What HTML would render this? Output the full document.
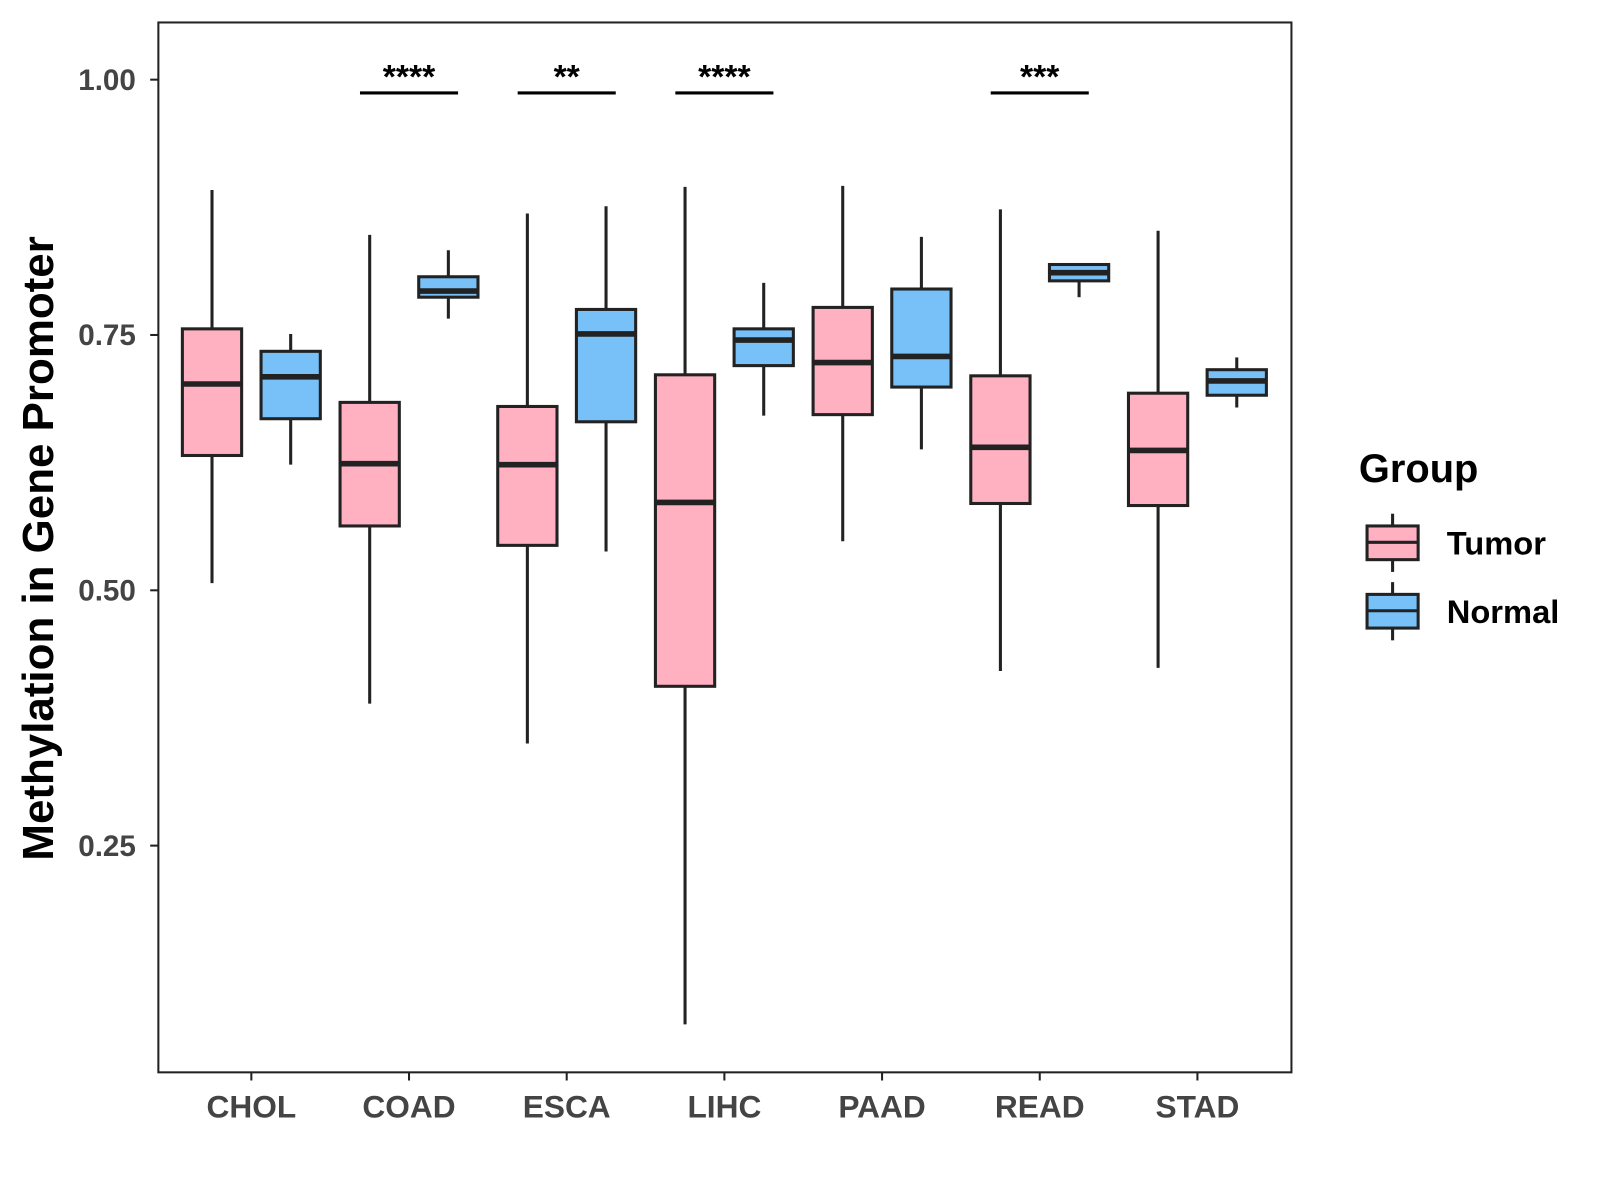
<!DOCTYPE html>
<html><head><meta charset="utf-8"><style>
html,body{margin:0;padding:0;background:#fff;}
svg{display:block;font-family:"Liberation Sans",Arial,sans-serif;}
</style></head><body>
<svg id="chart" width="1600" height="1200" viewBox="0 0 1566 1175" preserveAspectRatio="none">
<rect x="0" y="0" width="1566" height="1175" fill="#fff"/>
<rect x="155" y="22" width="1109" height="1028" fill="none" stroke="#222" stroke-width="2"/>
<g id="marks"></g>
<g id="axes"></g>
<text x="52" y="537" transform="rotate(-90 52 537)" text-anchor="middle" font-size="43" font-weight="bold" fill="#000">Methylation in Gene Promoter</text>
<g>
<text x="1330" y="472" font-size="39" font-weight="bold">Group</text>
<g>
<line x1="1363" y1="503" x2="1363" y2="560" stroke="#222" stroke-width="3"/>
<rect x="1338" y="515" width="50" height="33" fill="#FFB0C1" stroke="#222" stroke-width="3"/>
<line x1="1338" y1="531" x2="1388" y2="531" stroke="#222" stroke-width="3"/>
<text x="1416" y="543" font-size="32" font-weight="bold">Tumor</text>
</g>
<g>
<line x1="1363" y1="570" x2="1363" y2="627" stroke="#222" stroke-width="3"/>
<rect x="1338" y="582" width="50" height="33" fill="#78C1F8" stroke="#222" stroke-width="3"/>
<line x1="1338" y1="598" x2="1388" y2="598" stroke="#222" stroke-width="3"/>
<text x="1416" y="610" font-size="32" font-weight="bold">Normal</text>
</g>
</g>
</svg>
<script>
const categories = ["CHOL","COAD","ESCA","LIHC","PAAD","READ","STAD"];
// [min, q1, median, q3, max]
const tumorStats = [
 [0.507,0.632,0.702,0.756,0.892],
 [0.389,0.563,0.624,0.684,0.848],
 [0.350,0.544,0.623,0.680,0.869],
 [0.075,0.406,0.586,0.711,0.895],
 [0.548,0.672,0.723,0.777,0.896],
 [0.421,0.585,0.640,0.710,0.873],
 [0.424,0.583,0.637,0.693,0.852]
];
const normalStats = [
 [0.623,0.668,0.709,0.734,0.751],
 [0.766,0.787,0.793,0.807,0.833],
 [0.538,0.665,0.751,0.775,0.876],
 [0.671,0.720,0.745,0.756,0.801],
 [0.638,0.699,0.729,0.795,0.846],
 [0.787,0.803,0.811,0.819,0.819],
 [0.679,0.691,0.705,0.716,0.728]
];
const sigLabels = ["","****","**","****","","***",""];
const yTicks = [0.25,0.50,0.75,1.00];
const yTickLabels = ["0.25","0.50","0.75","1.00"];

const NS="http://www.w3.org/2000/svg";
function yScale(v){return 78+(1-v)*1000;}
function xScale(i){return 246+i*154.33;}
function mk(tag,attrs,parent){const e=document.createElementNS(NS,tag);for(const k in attrs)e.setAttribute(k,attrs[k]);parent.appendChild(e);return e;}
const marks=document.getElementById('marks');
const axes=document.getElementById('axes');
const BW=58, OFF=38.5;
function drawBox(s,cx,fill,name){
  const g=mk('g',{},marks);
  
  
  mk('line',{x1:cx,x2:cx,y1:yScale(s[4]),y2:yScale(s[0]),stroke:'#222','stroke-width':3},g);
  mk('rect',{x:cx-BW/2,y:yScale(s[3]),width:BW,height:yScale(s[1])-yScale(s[3]),fill:fill,stroke:'#222','stroke-width':3},g);
  mk('line',{x1:cx-BW/2,x2:cx+BW/2,y1:yScale(s[2]),y2:yScale(s[2]),stroke:'#222','stroke-width':5.5},g);
}
categories.forEach((c,i)=>{
  const cx=xScale(i);
  drawBox(tumorStats[i],cx-OFF,'#FFB0C1','box-tumor-'+c.toLowerCase());
  drawBox(normalStats[i],cx+OFF,'#78C1F8','box-normal-'+c.toLowerCase());
  if(sigLabels[i]){
    const g=mk('g',{},marks);
    
    
    mk('line',{x1:cx-48,x2:cx+48,y1:91,y2:91,stroke:'#000','stroke-width':3},g);
    const t=mk('text',{x:cx,y:86,'text-anchor':'middle','font-size':33,'font-weight':'bold'},g);
    t.textContent=sigLabels[i];
  }
  mk('line',{x1:cx,x2:cx,y1:1050,y2:1058,stroke:'#222','stroke-width':2},axes);
  const t=mk('text',{x:cx,y:1094,'text-anchor':'middle','font-size':31,'font-weight':'bold',fill:'#444'},axes);
  
  
  t.textContent=c;
});
yTicks.forEach((v,i)=>{
  const y=yScale(v);
  mk('line',{x1:147,x2:155,y1:y,y2:y,stroke:'#222','stroke-width':2},axes);
  const t=mk('text',{x:133,y:y+10,'text-anchor':'end','font-size':29,'font-weight':'bold',fill:'#444'},axes);
  
  
  t.textContent=yTickLabels[i];
});
</script>
</body></html>
